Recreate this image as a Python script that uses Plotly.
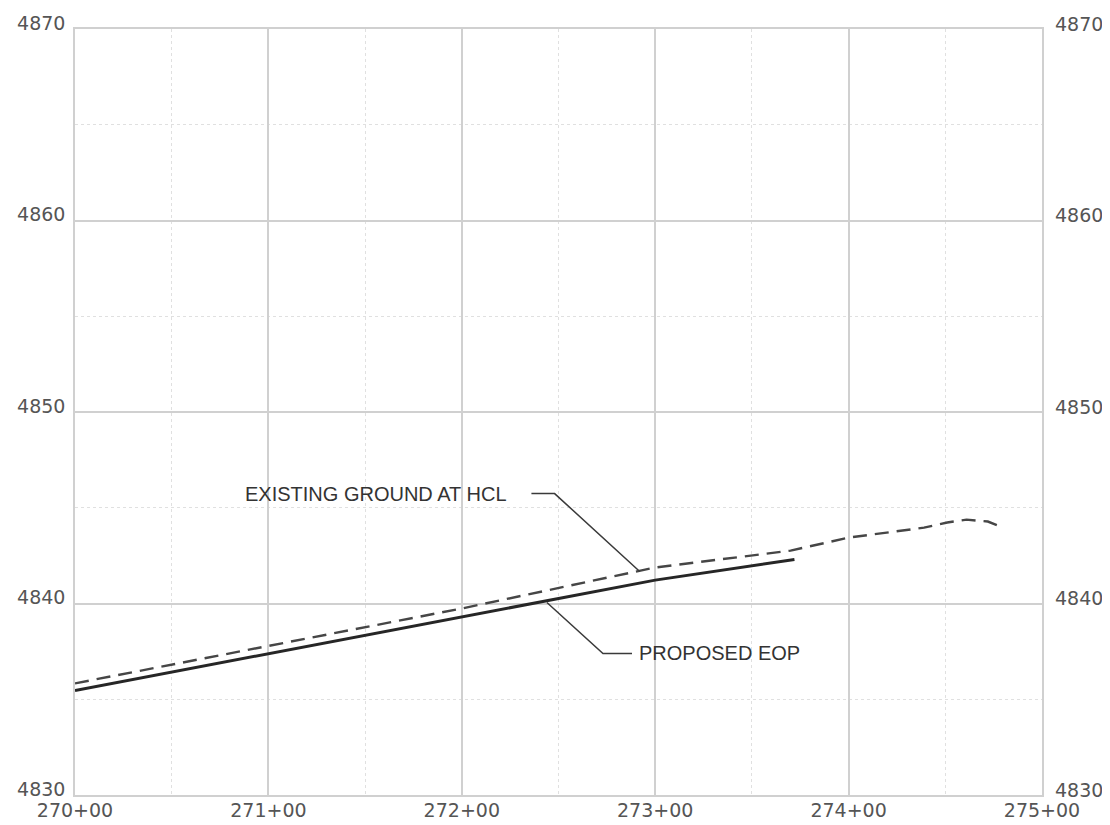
import plotly.graph_objects as go

# station in feet (270+00 = 27000), elevation in feet
x_ticks = [27000, 27100, 27200, 27300, 27400, 27500]
x_labels = ["270+00", "271+00", "272+00", "273+00", "274+00", "275+00"]
y_ticks = [4830, 4840, 4850, 4860, 4870]
y_labels = ["4830", "4840", "4850", "4860", "4870"]

eop_sta = [27000, 27100, 27200, 27300, 27372]
eop_elev = [4835.46, 4837.38, 4839.27, 4841.22, 4842.30]

eg_sta = [27000, 27100, 27200, 27300, 27370, 27400, 27439, 27451, 27461, 27472, 27480]
eg_elev = [4835.83, 4837.78, 4839.74, 4841.88, 4842.76, 4843.44, 4843.96,
           4844.23, 4844.38, 4844.28, 4843.96]

# callout leaders: label text, leader path (station, elevation)
eg_label = "EXISTING GROUND AT HCL"
eg_leader_sta = [27236, 27248, 27292]
eg_leader_elev = [4845.74, 4845.74, 4841.67]
eop_label = "PROPOSED EOP"
eop_leader_sta = [27244, 27273, 27288]
eop_leader_elev = [4840.05, 4837.39, 4837.39]

GRID = "#d0d0d0"
MINOR = "#e0e0e0"

fig = go.Figure()

fig.add_trace(go.Scatter(x=eg_sta, y=eg_elev, mode="lines",
                         line=dict(color="#464646", width=2.4, dash="14px,8px")))
fig.add_trace(go.Scatter(x=eop_sta, y=eop_elev, mode="lines",
                         line=dict(color="#262626", width=3)))
fig.add_trace(go.Scatter(x=eg_leader_sta, y=eg_leader_elev, mode="lines",
                         line=dict(color="#3a3a3a", width=1.5)))
fig.add_trace(go.Scatter(x=eop_leader_sta, y=eop_leader_elev, mode="lines",
                         line=dict(color="#3a3a3a", width=1.5)))
# dummy trace so the right-hand elevation axis is drawn
fig.add_trace(go.Scatter(x=[x_ticks[0]], y=[y_ticks[0]], yaxis="y2", mode="markers",
                         marker=dict(opacity=0), hoverinfo="skip"))

fig.add_annotation(x=eg_leader_sta[0], y=eg_leader_elev[0], text=eg_label,
                   showarrow=False, xanchor="right", yanchor="middle", xshift=-22,
                   font=dict(family="Liberation Sans", size=20, color="#333333"))
fig.add_annotation(x=eop_leader_sta[-1], y=eop_leader_elev[-1], text=eop_label,
                   showarrow=False, xanchor="left", yanchor="middle", xshift=5,
                   font=dict(family="Liberation Sans", size=20, color="#333333"))

tick_font = dict(family="DejaVu Sans", size=19, color="#555555")

# page body adds an 8px offset, margins compensate for it
fig.update_layout(
    width=1110, height=825,
    margin=dict(l=67, r=76, t=21, b=38),
    paper_bgcolor="white", plot_bgcolor="white",
    showlegend=False,
    xaxis=dict(range=[27000, 27500], tickvals=x_ticks, ticktext=x_labels,
               showgrid=True, gridcolor=GRID, gridwidth=1.5, automargin=False,
               showline=True, mirror=True, linecolor=GRID, linewidth=1.5,
               zeroline=False, ticks="", tickfont=tick_font, ticklabelstandoff=-3,
               minor=dict(tick0=27000, dtick=50, showgrid=True, gridcolor=MINOR,
                          griddash="dot", gridwidth=1)),
    yaxis=dict(range=[4830, 4870], tickvals=y_ticks, ticktext=y_labels,
               showgrid=True, gridcolor=GRID, gridwidth=1.5, automargin=False,
               showline=True, mirror=True, linecolor=GRID, linewidth=1.5,
               zeroline=False, ticks="", tickfont=tick_font,
               ticklabelshift=-6, ticklabelstandoff=4,
               minor=dict(tick0=4830, dtick=5, showgrid=True, gridcolor=MINOR,
                          griddash="dot", gridwidth=1)),
    yaxis2=dict(range=[4830, 4870], tickvals=y_ticks, ticktext=y_labels,
                overlaying="y", side="right", showgrid=False, zeroline=False,
                automargin=False, ticks="", tickfont=tick_font,
                ticklabelshift=-5, ticklabelstandoff=12),
)

fig.write_html("out.html")
